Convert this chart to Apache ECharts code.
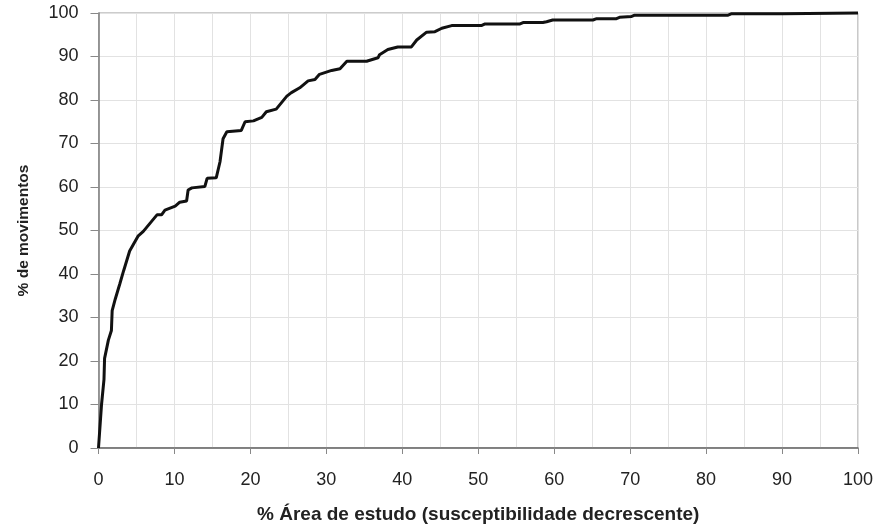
<!DOCTYPE html>
<html>
<head>
<meta charset="utf-8">
<script src="https://cdn.jsdelivr.net/npm/echarts@6/dist/echarts.min.js"></script>
<style>html,body{margin:0;padding:0;background:#fff;}#c{width:876px;height:529px;}</style>
</head>
<body>
<div id="c"></div>
<script>
var xAreaPct = [0,0.4,0.72,0.8,1.3,1.7,1.8,2.2,2.8,3.3,4.1,5.2,5.9,6.8,7.7,8.3,8.75,10.1,10.7,11.6,11.8,12.3,14.0,14.3,15.5,16.0,16.4,16.9,18.8,19.3,20.4,21.5,22.1,23.4,24.1,24.8,25.4,26.5,27.6,28.5,29.1,30.7,31.8,32.7,35.3,36.8,37.0,38.1,39.4,41.2,41.9,43.2,44.3,45.2,46.5,50.4,50.9,55.5,55.9,58.5,59.0,59.8,65.1,65.6,68.2,68.6,70.2,70.6,82.9,83.3,90.1,90.3,100];
var yMovPct = [0,10,15.7,20.6,24.8,27,31.6,34.2,37.7,40.7,45.3,48.7,49.8,51.7,53.6,53.6,54.7,55.6,56.5,56.8,59.3,59.8,60.1,62,62.1,65.8,71.1,72.7,73,75,75.2,76,77.3,77.9,79.4,80.9,81.7,82.8,84.4,84.7,85.9,86.8,87.2,88.9,88.9,89.7,90.4,91.6,92.2,92.2,93.8,95.6,95.7,96.5,97.1,97.1,97.5,97.5,97.8,97.8,98.0,98.4,98.4,98.7,98.7,99.0,99.2,99.5,99.5,99.8,99.8,100,100];
var xTitle = '% Área de estudo (susceptibilidade decrescente)';
var yTitle = '% de movimentos';

var pts = xAreaPct.map(function(x, i){ return [x, yMovPct[i]]; });
var chart = echarts.init(document.getElementById('c'), null, {renderer:'canvas'});
var font = 'Liberation Sans, Arial, sans-serif';
chart.setOption({
  animation: false,
  backgroundColor: '#fff',
  grid: {left: 98.5, right: 17, top: 13, bottom: 77, show: true, borderColor: '#999', borderWidth: 1, containLabel: false},
  xAxis: {
    type: 'value', min: 0, max: 100, interval: 10,
    name: xTitle, nameLocation: 'middle', nameGap: 57,
    nameTextStyle: {fontFamily: font, fontSize: 19, fontWeight: 'bold', color: '#222'},
    axisLine: {show: true, lineStyle: {color: '#666', width: 1.5}},
    axisTick: {show: true, length: 6, lineStyle: {color: '#888'}},
    axisLabel: {margin: 23, fontFamily: font, fontSize: 18, color: '#222'},
    splitLine: {show: true, lineStyle: {color: '#e2e2e2', width: 1}},
    minorTick: {show: false, splitNumber: 2},
    minorSplitLine: {show: true, lineStyle: {color: '#e2e2e2', width: 1}}
  },
  yAxis: {
    type: 'value', min: 0, max: 100, interval: 10,
    name: yTitle, nameLocation: 'middle', nameGap: 67,
    nameTextStyle: {fontFamily: font, fontSize: 15.5, fontWeight: 'bold', color: '#222'},
    axisLine: {show: true, lineStyle: {color: '#777', width: 1.5}},
    axisTick: {show: true, length: 8, lineStyle: {color: '#888'}},
    axisLabel: {margin: 20, fontFamily: font, fontSize: 18, color: '#222'},
    splitLine: {show: true, lineStyle: {color: '#e2e2e2', width: 1}}
  },
  series: [{
    type: 'line', data: pts, showSymbol: false, symbol: 'none',
    lineStyle: {color: '#111', width: 3}, z: 5, clip: false
  }]
});
</script>
</body>
</html>
